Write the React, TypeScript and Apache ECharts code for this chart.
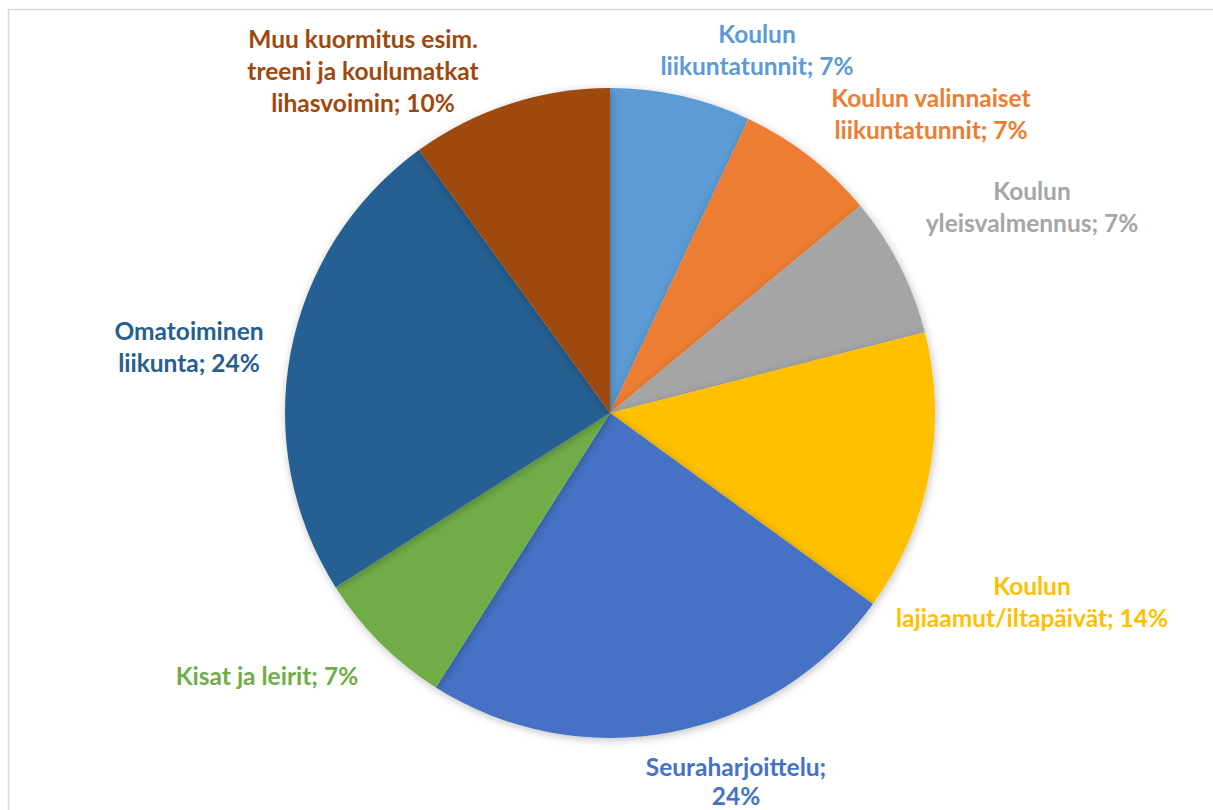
import React, { useEffect, useRef } from "react";
import * as echarts from "echarts";

const categories = [
  "Koulun liikuntatunnit",
  "Koulun valinnaiset liikuntatunnit",
  "Koulun yleisvalmennus",
  "Koulun lajiaamut/iltapäivät",
  "Seuraharjoittelu",
  "Kisat ja leirit",
  "Omatoiminen liikunta",
  "Muu kuormitus esim. treeni ja koulumatkat lihasvoimin",
];
const values = [7, 7, 7, 14, 24, 7, 24, 10];
const labelTexts = [
  "Koulun\nliikuntatunnit; 7%",
  "Koulun valinnaiset\nliikuntatunnit; 7%",
  "Koulun\nyleisvalmennus; 7%",
  "Koulun\nlajiaamut/iltapäivät; 14%",
  "Seuraharjoittelu;\n24%",
  "Kisat ja leirit; 7%",
  "Omatoiminen\nliikunta; 24%",
  "Muu kuormitus esim.\ntreeni ja koulumatkat\nlihasvoimin; 10%",
];
const colors = ["#5B9BD5", "#ED7D31", "#A5A5A5", "#FFC000", "#4472C4", "#70AD47", "#255E91", "#9E480E"];
const labelPos: [number, number][] = [
  [757, 49],
  [931, 113],
  [1032, 206],
  [1032, 601],
  [736, 781],
  [267, 675],
  [189, 346],
  [363, 70],
];

export default function App() {
  const ref = useRef<HTMLDivElement>(null);
  useEffect(() => {
    const chart = echarts.init(ref.current!, null, { renderer: "svg" });
    chart.setOption({
      animation: false,
      backgroundColor: "#ffffff",
      graphic: [
        {
          type: "rect",
          shape: { x: 8.5, y: 9.5, width: 1230, height: 830 },
          style: { fill: "none", stroke: "#d9d9d9", lineWidth: 1.5 },
          silent: true,
        },
      ],
      series: [
        {
          type: "pie",
          center: [610, 413],
          radius: [0, 325],
          startAngle: 90,
          clockwise: true,
          data: categories.map((name, i) => ({
            name,
            value: values[i],
            itemStyle: { color: colors[i] },
            label: i === 4 ? { color: colors[i], lineHeight: 29 } : { color: colors[i] },
          })),
          itemStyle: {
            borderWidth: 0,
            shadowBlur: 8,
            shadowColor: "rgba(0,0,0,0.25)",
            shadowOffsetX: 1,
            shadowOffsetY: 2,
          },
          label: {
            show: true,
            position: "outside",
            formatter: (p: any) => labelTexts[p.dataIndex],
            fontFamily: "Lato",
            fontWeight: "bold",
            fontSize: 24.5,
            lineHeight: 32,
            align: "center",
            overflow: "none",
            edgeDistance: 0,
            bleedMargin: 0,
          },
          labelLine: { show: false },
          labelLayout: (p: any) => ({
            x: labelPos[p.dataIndex][0],
            y: labelPos[p.dataIndex][1],
            align: "center",
            verticalAlign: "middle",
            width: 400,
          }),
          emphasis: { disabled: true },
        },
      ],
    });
    return () => chart.dispose();
  }, []);
  return (
    <div
      ref={ref}
      style={{ position: "fixed", left: 0, top: 0, width: 1213, height: 810 }}
    />
  );
}
